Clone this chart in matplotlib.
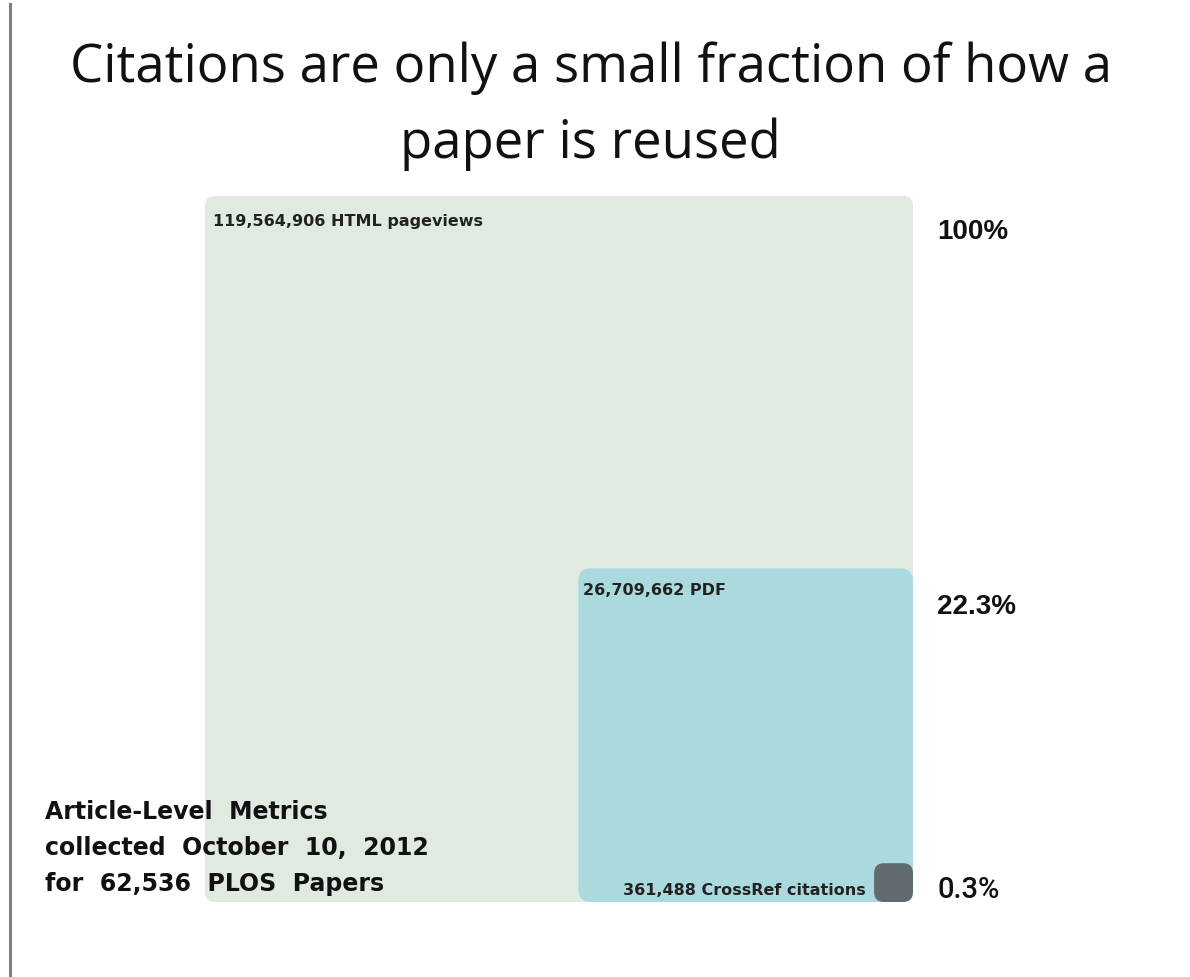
import matplotlib
matplotlib.use("Agg")
import matplotlib.pyplot as plt
from matplotlib.patches import FancyBboxPatch
import numpy as np

# PLOS article-level metrics, October 10, 2012
metrics = ["HTML pageviews", "PDF", "CrossRef citations"]
counts = [119564906, 26709662, 361488]
percent_labels = ["100%", "22.3%", "0.3%"]
fill_colors = ["#e0eae1", "#aadadd", "#606b6f"]

title_lines = ["Citations are only a small fraction of how a", "paper is reused"]
note = "Article-Level  Metrics\ncollected  October  10,  2012\nfor  62,536  PLOS  Papers"

W, H = 1190, 978
fig = plt.figure(figsize=(W / 100, H / 100), dpi=100)
fig.patch.set_facecolor("white")

# thin divider at the left edge
fig.add_artist(plt.Line2D([10 / W, 10 / W], [0.0, 1 - 5 / H], color="#808080", lw=2.2))

for line, base in zip(title_lines, [82, 158]):
    fig.text(0.4965, 1 - base / H, line, ha="center", va="baseline", fontsize=38,
             family="Open Sans", color="#111111")

ax = fig.add_axes([205 / W, 75 / H, 708 / W, 706 / H])
ax.set_xlim(0, 1)
ax.set_ylim(0, 1)
ax.axis("off")

total = counts[0]
sides = [np.sqrt(c / total) for c in counts]
radii = [0.014, 0.018, 0.014]

for side, color, r in zip(sides, fill_colors, radii):
    # squares share the bottom-right corner, area proportional to count
    ax.add_patch(FancyBboxPatch((1 - side, 0), side, side,
                                boxstyle=f"round,pad=0,rounding_size={min(r, side * 0.3)}",
                                facecolor=color, edgecolor="none"))

label_font = dict(family="DejaVu Sans", weight="bold", color="#222222", fontsize=11.5)
ax.text(0.0113, 0.966, f"{counts[0]:,} {metrics[0]}", ha="left", va="center", **label_font)
ax.text(1 - sides[1] + 0.0066, sides[1] - 0.030, f"{counts[1]:,} {metrics[1]}",
        ha="left", va="center", **label_font)
ax.text(1 - sides[2] - 0.0114, 0.018, f"{counts[2]:,} {metrics[2]}",
        ha="right", va="center", **label_font)

ax.text(1.034, 0.950, percent_labels[0], ha="left", va="center", weight="bold",
        family="Liberation Sans", color="#111111", fontsize=20)
ax.text(1.034, 0.419, percent_labels[1], ha="left", va="center", weight="bold",
        family="Liberation Sans", color="#111111", fontsize=20)
ax.text(1.034, 0.018, percent_labels[2], ha="left", va="center", weight="medium",
        family="Roboto", color="#111111", fontsize=21)

fig.text(45 / W, 1 - 800 / H, note, ha="left", va="top", fontsize=17,
         family="DejaVu Sans", weight="bold", color="#111111", linespacing=1.62,
         multialignment="left")

fig.savefig("out.png", dpi=100, facecolor="white")
